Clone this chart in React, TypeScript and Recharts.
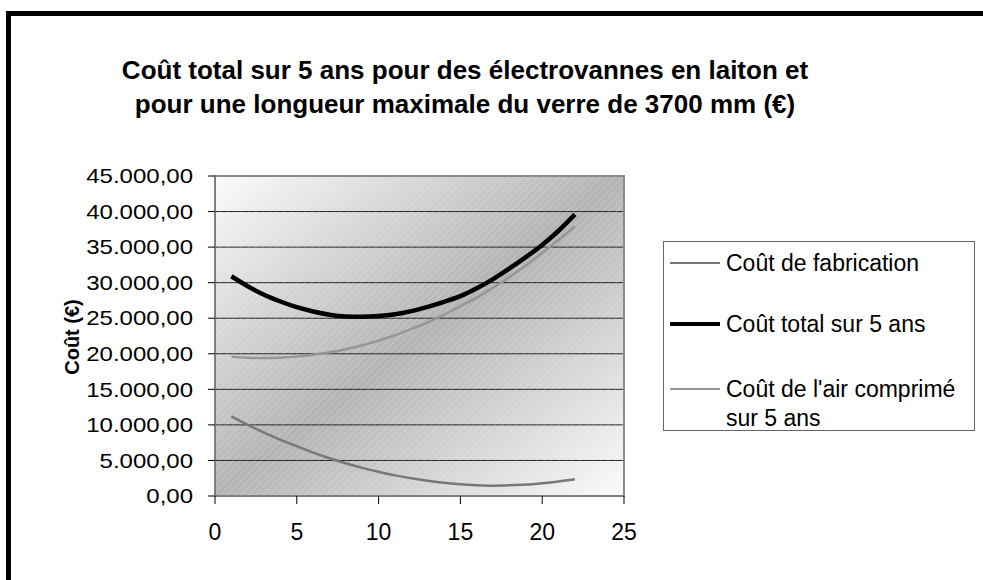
import {
  LineChart,
  Line,
  XAxis,
  YAxis,
  CartesianGrid,
  ReferenceArea,
} from "recharts";

const longueurs = [1, 2, 3, 4, 5, 6, 7, 8, 9, 10, 11, 12, 13, 14, 15, 16, 17, 18, 19, 20, 21, 22];
const coutFabrication = [
  11200, 10000, 8900, 7900, 7000, 6100, 5300, 4600, 3950, 3400, 2900, 2500, 2150, 1850, 1650, 1520,
  1450, 1500, 1600, 1800, 2050, 2350,
];
const coutTotal = [
  30900, 29500, 28300, 27350, 26550, 25950, 25500, 25250, 25200, 25300, 25550, 26000, 26600, 27300,
  28100, 29200, 30500, 32000, 33600, 35300, 37300, 39600,
];
const coutAir = [
  19600, 19450, 19400, 19450, 19600, 19850, 20200, 20650, 21200, 21850, 22600, 23500, 24400, 25500,
  26700, 27900, 29300, 30800, 32400, 34200, 36000, 37900,
];
const xTicks = [0, 5, 10, 15, 20, 25];
const yTicks = [0, 5000, 10000, 15000, 20000, 25000, 30000, 35000, 40000, 45000];

const series = [
  { key: "fab", name: "Coût de fabrication", color: "#787878", width: 2.5 },
  { key: "total", name: "Coût total sur 5 ans", color: "#000000", width: 4.5 },
  { key: "air", name: "Coût de l'air comprimé sur 5 ans", color: "#969696", width: 2.5 },
];

const data = longueurs.map((x, i) => ({
  x,
  fab: coutFabrication[i],
  total: coutTotal[i],
  air: coutAir[i],
}));

const FONT = "'Liberation Sans', Arial, sans-serif";

// 45000 -> "45.000,00"
const formatEuro = (v: number) => {
  const s = String(Math.round(v));
  return s.replace(/\B(?=(\d{3})+(?!\d))/g, ".") + ",00";
};

const YTick = ({ x, y, payload }: any) => (
  <g transform={`translate(${x},${y})`}>
    <text
      x={0}
      y={0}
      dy="0.36em"
      textAnchor="end"
      fontSize={20}
      fontFamily={FONT}
      fill="#000"
      transform="scale(1.2,1)"
    >
      {formatEuro(payload.value)}
    </text>
  </g>
);

const XTick = ({ x, y, payload }: any) => (
  <text x={x} y={y} dy="0.72em" textAnchor="middle" fontSize={23} fontFamily={FONT} fill="#000">
    {payload.value}
  </text>
);

const LegendBox = () => (
  <div
    style={{
      position: "absolute",
      left: 663,
      top: 241,
      width: 310,
      height: 188,
      border: "1px solid #666",
      background: "#fff",
      fontFamily: FONT,
      fontSize: 23,
      color: "#000",
    }}
  >
    {series.map((s, i) => (
      <div
        key={s.key}
        style={{ position: "absolute", left: 6, top: [7, 68, 133][i], display: "flex" }}
      >
        <div
          style={{
            width: 50,
            height: s.width,
            background: s.color,
            marginTop: 14 - s.width / 2,
            marginRight: 6,
          }}
        />
        <div style={{ width: 240, lineHeight: "29px" }}>
          {s.key === "air" ? (
            <>
              Coût de l'air comprimé
              <br />
              sur 5 ans
            </>
          ) : (
            s.name
          )}
        </div>
      </div>
    ))}
  </div>
);

export default function App() {
  return (
    <div
      style={{
        position: "absolute",
        left: 0,
        top: 0,
        width: 983,
        height: 580,
        overflow: "hidden",
        background: "#fff",
      }}
    >
      {/* frame, runs off the right and bottom edges */}
      <div
        style={{
          position: "absolute",
          left: 6,
          top: 11,
          width: 1000,
          height: 600,
          border: "5px solid #000",
        }}
      />
      <div
        style={{
          position: "absolute",
          left: 15,
          top: 53,
          width: 900,
          textAlign: "center",
          fontFamily: FONT,
          fontWeight: "bold",
          fontSize: 26,
          lineHeight: "34px",
          color: "#000",
        }}
      >
        Coût total sur 5 ans pour des électrovannes en laiton et
        <br />
        pour une longueur maximale du verre de 3700 mm (€)
      </div>
      <div
        style={{
          position: "absolute",
          left: 72,
          top: 337,
          transform: "translate(-50%,-50%) rotate(-90deg)",
          fontFamily: FONT,
          fontWeight: "bold",
          fontSize: 20,
          whiteSpace: "nowrap",
        }}
      >
        Coût (€)
      </div>
      <div style={{ position: "absolute", left: 0, top: 0 }}>
        <LineChart
          width={983}
          height={580}
          data={data}
          margin={{ top: 176, right: 359, bottom: 44, left: 115 }}
        >
          <defs>
            <linearGradient id="plotBg" x1="0" y1="0" x2="1" y2="1">
              <stop offset="0%" stopColor="#fbfbfb" />
              <stop offset="50%" stopColor="#b4b4b4" />
              <stop offset="100%" stopColor="#fbfbfb" />
            </linearGradient>
            <pattern id="hatch" width="5" height="5" patternUnits="userSpaceOnUse" patternTransform="rotate(45)">
              <line x1="0" y1="0" x2="0" y2="5" stroke="#ffffff" strokeWidth="1" strokeOpacity="0.35" />
            </pattern>
          </defs>
          <CartesianGrid vertical={false} stroke="#222" fill="url(#plotBg)" fillOpacity={1} />
          <ReferenceArea x1={0} x2={25} y1={0} y2={45000} fill="url(#hatch)" fillOpacity={1} stroke="none" />
          <XAxis
            type="number"
            dataKey="x"
            domain={[0, 25]}
            ticks={xTicks}
            interval={0}
            stroke="#808080"
            strokeWidth={2}
            tickLine={{ stroke: "#000", strokeWidth: 1 }}
            tickSize={8}
            tickMargin={19}
            height={40}
            tick={<XTick />}
          />
          <YAxis
            type="number"
            domain={[0, 45000]}
            ticks={yTicks}
            interval={0}
            width={100}
            stroke="#808080"
            strokeWidth={2}
            tickLine={{ stroke: "#000", strokeWidth: 1 }}
            tickSize={7}
            tickMargin={15}
            tick={<YTick />}
          />
          <ReferenceArea
            x1={0}
            x2={25}
            y1={0}
            y2={45000}
            fill="none"
            stroke="#8a8a8a"
            strokeWidth={2}
          />
          {series.map((s) => (
            <Line
              key={s.key}
              type="monotone"
              dataKey={s.key}
              name={s.name}
              stroke={s.color}
              strokeWidth={s.width}
              dot={false}
              activeDot={false}
              isAnimationActive={false}
            />
          ))}
        </LineChart>
      </div>
      <LegendBox />
    </div>
  );
}
